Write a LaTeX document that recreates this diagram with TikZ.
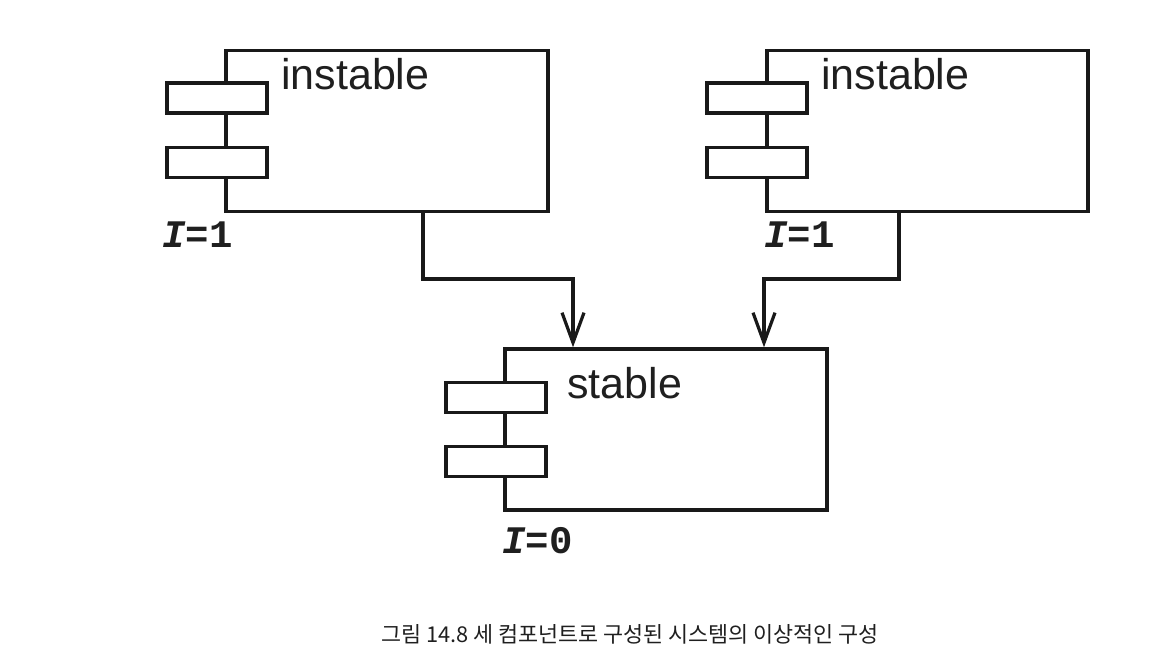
\documentclass[tikz,border=0pt]{standalone}
\usepackage{fontspec}
\setmainfont{Liberation Sans}
\newfontfamily\labfont{Liberation Mono}
\newfontfamily\krfont{Noto Sans CJK KR}
\usetikzlibrary{arrows.meta}
\tikzset{
  compbox/.style={draw=black!90, line width=3.4pt, rectangle, inner sep=0pt, minimum width=#1, minimum height=161pt},
  portbox/.style={draw=black!90, fill=white, line width=3.4pt, rectangle, inner sep=0pt, minimum width=100pt, minimum height=30pt},
  compname/.style={font=\fontsize{43}{43}\selectfont, text=black!88, inner sep=0pt, anchor=base west},
  ilab/.style={font=\labfont\bfseries\fontsize{39}{39}\selectfont, text=black!88, inner sep=0pt, anchor=base west},
  arrline/.style={draw=black!90, line width=3.2pt, -{Straight Barb[length=30pt,width=22pt,line width=3.2pt]}},
  captext/.style={font=\krfont\fontsize{21.8}{21.8}\selectfont, text=black!88, inner sep=0pt}
}
\begin{document}
\begin{tikzpicture}[x=1pt,y=-1pt]
\useasboundingbox (0,0) rectangle (1176,672);
% components
\node[compbox=322pt] (tl) at (387,131) {};
\node[compbox=321pt] (tr) at (927.5,131) {};
\node[compbox=322pt] (st) at (666,429.5) {};
% ports
\node[portbox] (tlp1) at (217,98) {};
\node[portbox] (tlp2) at (217,162.5) {};
\node[portbox] (trp1) at (757,98) {};
\node[portbox] (trp2) at (757,162.5) {};
\node[portbox] (stp1) at (496,397.5) {};
\node[portbox] (stp2) at (496,461.5) {};
% names
\node[compname] (tln) at (281,89) {instable};
\node[compname] (trn) at (821,89) {instable};
\node[compname] (stn) at (567,398) {stable};
% instability labels
\node[ilab] (tli) at (162,247) {{\itshape I}=1};
\node[ilab] (tri) at (764,247) {{\itshape I}=1};
\node[ilab] (sti) at (502,553) {{\itshape I}=0};
% connectors
\coordinate (b1) at (423,279);
\coordinate (b2) at (573,279);
\coordinate (b3) at (899,279);
\coordinate (b4) at (764,279);
\draw[arrline] (tl.south -| b1) -- (b1) -- (b2) -- (st.north -| b2);
\draw[arrline] (tr.south -| b3) -- (b3) -- (b4) -- (st.north -| b4);
% caption
\node[captext] (caption) at (630,634) {그림 14.8 세 컴포넌트로 구성된 시스템의 이상적인 구성};
\end{tikzpicture}
\end{document}
